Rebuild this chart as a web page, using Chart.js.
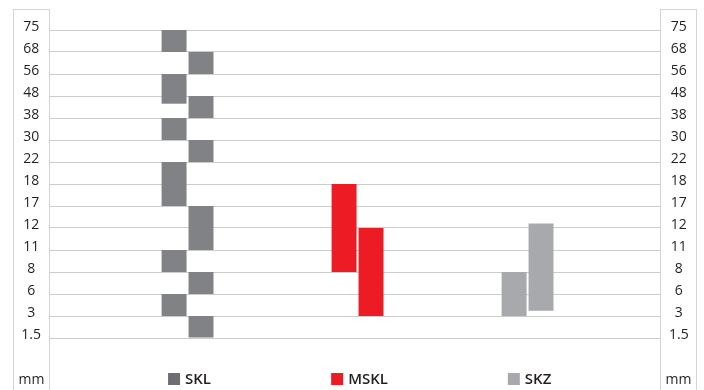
<!DOCTYPE html>
<html lang="en">
<head>
    <meta charset="UTF-8">
    <title>SKL / MSKL / SKZ</title>
    <script src="https://cdn.jsdelivr.net/npm/chart.js"></script>
    <style>
        body {
            margin: 0;
            padding: 0;
            background: #fff;
        }
        #wrap {
            width: 704px;
            height: 390px;
        }
    </style>
</head>
<body>
<div id="wrap"><canvas id="chart"></canvas></div>

<script>
    // y-axis: size steps in mm, equally spaced from bottom to top
    var sizeTicks = [1.5, 3, 6, 8, 11, 12, 17, 18, 22, 30, 38, 48, 56, 68, 75];
    var categories = ['SKL', 'MSKL', 'SKZ'];

    // ranges in mm [from, to], left and right column of each group
    var sklLeft = [[68, 75], [44.5, 56], [30, 38], [17, 22], [8, 11], [3, 6]];
    var sklRight = [[56, 68], [38, 48], [22, 30], [11, 17], [6, 8], [1.5, 3]];
    var msklLeft = [[8, 18]];
    var msklRight = [[3, 12]];
    var skzLeft = [[3, 8]];
    var skzRight = [[3.7, 13]];

    var colors = ['#808285', '#ed1c24', '#a7a9ac'];
    var legendColors = ['#6d6e71', '#ed1c24', '#a7a9ac'];

    // mm -> position on the step axis
    function toStep(mm) {
        for (var i = 0; i < sizeTicks.length - 1; i++) {
            if (mm <= sizeTicks[i + 1]) {
                return i + (mm - sizeTicks[i]) / (sizeTicks[i + 1] - sizeTicks[i]);
            }
        }
        return sizeTicks.length - 1;
    }

    var datasets = [];
    function addColumn(ranges, catIndex, stack) {
        ranges.forEach(function (r) {
            var data = [];
            categories.forEach(function (c, i) {
                data.push({x: i + 1, y: i === catIndex ? [toStep(r[0]), toStep(r[1])] : null});
            });
            datasets.push({
                data: data,
                stack: stack,
                backgroundColor: colors[catIndex],
                borderWidth: 0,
                categoryPercentage: 0.317,
                barPercentage: 0.926
            });
        });
    }
    addColumn(sklLeft, 0, 'L');
    addColumn(sklRight, 0, 'R');
    addColumn(msklLeft, 1, 'L');
    addColumn(msklRight, 1, 'R');
    addColumn(skzLeft, 2, 'L');
    addColumn(skzRight, 2, 'R');

    var tickFont = {family: 'Open Sans', size: 14};

    function stepTicks(scale) {
        scale.ticks = sizeTicks.map(function (v, i) { return {value: i}; });
    }

    var boxes = {
        id: 'boxes',
        afterDraw: function (chart) {
            var ctx = chart.ctx;
            ctx.save();
            ctx.strokeStyle = '#d4d4d4';
            ctx.lineWidth = 1;
            ['y', 'y2'].forEach(function (id) {
                var s = chart.scales[id];
                ctx.strokeRect(s.left + 0.5, 9.5, s.width - 1, 390);
                ctx.fillStyle = '#231f20';
                ctx.font = '14px "Open Sans"';
                ctx.textAlign = 'center';
                ctx.textBaseline = 'middle';
                ctx.fillText('mm', s.left + s.width / 2, 380);
            });
            // legend squares next to the group labels
            var x = chart.scales.x;
            ctx.font = '600 15px "Open Sans"';
            categories.forEach(function (c, i) {
                var w = ctx.measureText(c).width;
                var textLeft = x.getPixelForValue(i + 1) + 10.5 - w / 2;
                ctx.fillStyle = legendColors[i];
                ctx.fillRect(textLeft - 17, 373, 12, 12);
            });
            ctx.restore();
        }
    };

    new Chart(document.getElementById('chart'), {
        type: 'bar',
        data: {datasets: datasets},
        plugins: [boxes],
        options: {
            responsive: true,
            maintainAspectRatio: false,
            animation: false,
            layout: {padding: {left: 13, right: 7, top: 30, bottom: 0}},
            plugins: {legend: {display: false}, tooltip: {enabled: false}},
            scales: {
                x: {
                    type: 'linear',
                    offset: false,
                    min: 0.191,
                    max: 3.779,
                    afterBuildTicks: function (scale) {
                        scale.ticks = categories.map(function (c, i) { return {value: i + 1}; });
                    },
                    afterFit: function (scale) { scale.height = 52; },
                    grid: {display: false, drawTicks: false, offset: false},
                    border: {display: false},
                    ticks: {
                        callback: function (v) { return categories[v - 1]; },
                        font: {family: 'Open Sans', size: 15, weight: '600'},
                        color: '#231f20',
                        padding: 33,
                        labelOffset: 10.5,
                        maxRotation: 0
                    }
                },
                y: {
                    type: 'linear',
                    position: 'left',
                    stacked: false,
                    min: 0,
                    max: sizeTicks.length - 1,
                    afterBuildTicks: stepTicks,
                    afterFit: function (scale) { scale.width = 37; },
                    grid: {color: '#cccccc', lineWidth: 1, drawTicks: false},
                    border: {display: false},
                    ticks: {
                        callback: function (v) { return sizeTicks[v]; },
                        font: tickFont,
                        color: '#231f20',
                        crossAlign: 'center',
                        padding: 9,
                        labelOffset: -3
                    }
                },
                y2: {
                    type: 'linear',
                    position: 'right',
                    stacked: false,
                    min: 0,
                    max: sizeTicks.length - 1,
                    afterBuildTicks: stepTicks,
                    afterFit: function (scale) { scale.width = 37; },
                    grid: {display: false, drawTicks: false},
                    border: {display: false},
                    ticks: {
                        callback: function (v) { return sizeTicks[v]; },
                        font: tickFont,
                        color: '#231f20',
                        crossAlign: 'center',
                        padding: 9,
                        labelOffset: -3
                    }
                }
            }
        }
    });
</script>
</body>
</html>
